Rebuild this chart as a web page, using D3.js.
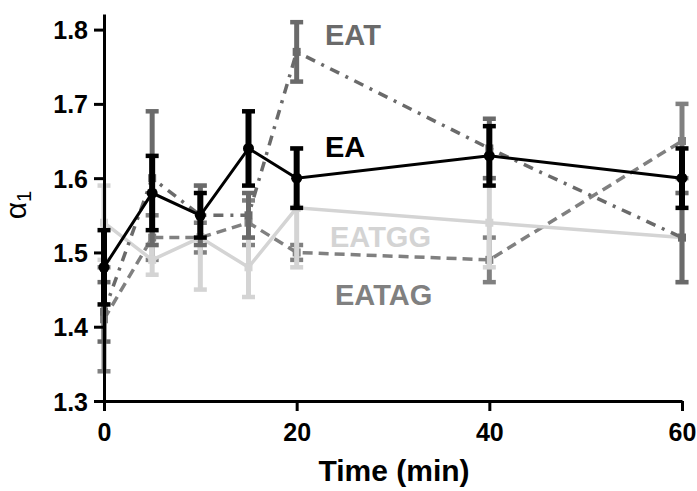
<!DOCTYPE html>
<html><head><meta charset="utf-8">
<script src="https://cdn.jsdelivr.net/npm/d3@7"></script>
<style>body{margin:0;background:#fff}svg{display:block}</style>
</head><body>
<svg id="c" width="697" height="491"></svg>
<script>
const times = [0, 5, 10, 15, 20, 40, 60];
const eaVals   = [1.48, 1.58, 1.55, 1.64, 1.60, 1.63, 1.60];
const eaErr    = [0.05, 0.05, 0.03, 0.05, 0.04, 0.04, 0.04];
const eatVals  = [1.42, 1.60, 1.55, 1.55, 1.77, 1.64, 1.52];
const eatErr   = [0.04, 0.09, 0.04, 0.03, 0.04, 0.04, 0.06];
const eatagVals= [1.41, 1.52, 1.52, 1.54, 1.50, 1.49, 1.65];
const eatagErr = [0.07, 0.03, 0.02, 0.03, 0.01, 0.03, 0.05];
const eatggVals= [1.54, 1.49, 1.52, 1.48, 1.56, 1.54, 1.52];
const eatggErr = [0.05, 0.02, 0.07, 0.04, 0.08, 0.06, 0.06];
const xTicks = [0, 20, 40, 60];
const yTicks = [1.3, 1.4, 1.5, 1.6, 1.7, 1.8];
const seriesNames = ["EATAG", "EATGG", "EAT", "EA"];

const svg = d3.select("#c");
const x = d3.scaleLinear().domain([0, 60]).range([104, 682]);
const y = d3.scaleLinear().domain([1.3, 1.821]).range([401, 14]);

const series = [
  {name:"EATAG", vals:eatagVals, err:eatagErr, color:"#808080", dash:"10,6", w:3.5, barW:5, marker:"sq", lab:[335,305]},
  {name:"EATGG", vals:eatggVals, err:eatggErr, color:"#d4d4d4", dash:null, w:3.5, barW:5, marker:"sq", lab:[330,247]},
  {name:"EAT",   vals:eatVals,   err:eatErr,   color:"#6a6a6a", dash:"10,7,3,7", w:3.5, barW:5, marker:"sq", lab:[325,45]},
  {name:"EA",    vals:eaVals,    err:eaErr,    color:"#000000", dash:null, w:3, barW:6, marker:"circ", lab:[325,157]}
];

series.forEach(s => {
  const data = times.map((t,i) => ({t, v:s.vals[i], e:s.err[i]}));
  const g = svg.append("g");
  g.selectAll("line.bar").data(data).join("line")
    .attr("x1", d => x(d.t)).attr("x2", d => x(d.t))
    .attr("y1", d => y(d.v - d.e)).attr("y2", d => y(d.v + d.e))
    .attr("stroke", s.color).attr("stroke-width", s.barW);
  [1,-1].forEach(sign => {
    g.selectAll("line.cap" + sign).data(data).join("line")
      .attr("x1", d => x(d.t) - 6.5).attr("x2", d => x(d.t) + 6.5)
      .attr("y1", d => y(d.v + sign*d.e)).attr("y2", d => y(d.v + sign*d.e))
      .attr("stroke", s.color).attr("stroke-width", 4.5);
  });
  g.append("path").datum(data)
    .attr("d", d3.line().x(d => x(d.t)).y(d => y(d.v)))
    .attr("fill", "none").attr("stroke", s.color).attr("stroke-width", s.w)
    .attr("stroke-dasharray", s.dash);
  if (s.marker === "circ") {
    g.selectAll("circle").data(data).join("circle")
      .attr("cx", d => x(d.t)).attr("cy", d => y(d.v)).attr("r", 5.5).attr("fill", s.color);
  } else {
    g.selectAll("rect").data(data).join("rect")
      .attr("x", d => x(d.t) - 4).attr("y", d => y(d.v) - 4)
      .attr("width", 8).attr("height", 8).attr("fill", s.color);
  }
  svg.append("text").attr("x", s.lab[0]).attr("y", s.lab[1])
    .attr("font-family", "Liberation Sans, Arial, sans-serif").attr("font-weight", "bold")
    .attr("font-size", 29).attr("fill", s.color).text(s.name);
});

const yAxis = svg.append("g").attr("transform", "translate(104,0)")
  .call(d3.axisLeft(y).tickValues(yTicks).tickFormat(d3.format(".1f")).tickSize(10).tickSizeOuter(0).tickPadding(6));
const xAxis = svg.append("g").attr("transform", "translate(0,401)")
  .call(d3.axisBottom(x).tickValues(xTicks).tickSize(10).tickSizeOuter(0).tickPadding(6));
[yAxis, xAxis].forEach(a => {
  a.select(".domain").attr("stroke", "#000").attr("stroke-width", 3);
  a.selectAll(".tick line").attr("stroke", "#000").attr("stroke-width", 3);
  a.selectAll(".tick text").attr("fill", "#000")
    .attr("font-family", "Liberation Sans, Arial, sans-serif").attr("font-weight", "bold").attr("font-size", 25);
});
yAxis.selectAll(".tick text").attr("dy", "0.36em");
xAxis.selectAll(".tick text").attr("dy", "0.95em");

svg.append("text").attr("x", 394).attr("y", 481).attr("text-anchor", "middle")
  .attr("font-family", "Liberation Sans, Arial, sans-serif").attr("font-weight", "bold").attr("font-size", 30)
  .text("Time (min)");

const yt = svg.append("text").attr("transform", "translate(26,205) rotate(-90)").attr("text-anchor", "middle")
  .attr("font-family", "Liberation Sans, Arial, sans-serif").attr("font-size", 30);
yt.append("tspan").text("α");
yt.append("tspan").attr("font-size", 20).attr("dy", 5).text("1");
</script>
</body></html>
